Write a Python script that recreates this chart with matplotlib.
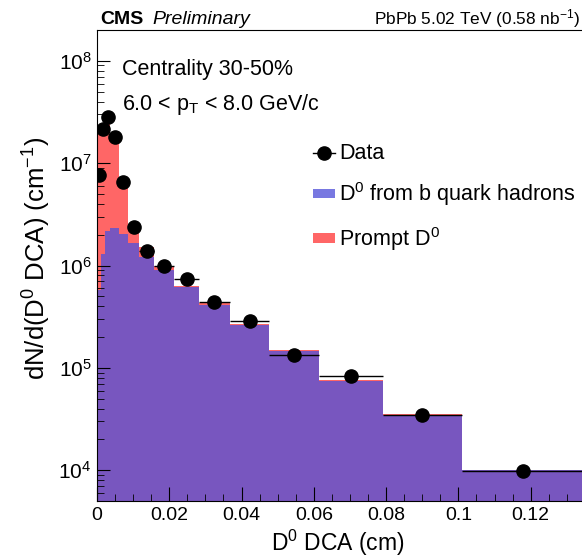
import matplotlib
matplotlib.use('Agg')
import matplotlib.pyplot as plt
import numpy as np
from matplotlib.ticker import MultipleLocator, FuncFormatter
from matplotlib.patches import Patch
from matplotlib.lines import Line2D

plt.rcParams['font.family'] = ['Liberation Sans', 'DejaVu Sans']
plt.rcParams['mathtext.fontset'] = 'custom'
plt.rcParams['mathtext.rm'] = 'Liberation Sans'
plt.rcParams['mathtext.it'] = 'Liberation Sans:italic'
plt.rcParams['mathtext.bf'] = 'Liberation Sans:bold'

# DCA bin edges (cm)
edges = np.array([0, 0.0011, 0.0023, 0.0037, 0.006, 0.0085, 0.0117, 0.0159,
                  0.0214, 0.0282, 0.0368, 0.0476, 0.0614, 0.0791, 0.101, 0.135])

# data points
data = [7.7e6, 2.15e7, 2.85e7, 1.80e7, 6.5e6, 2.40e6, 1.40e6, 9.9e5,
        7.4e5, 4.35e5, 2.90e5, 1.34e5, 8.4e4, 3.43e4, 9.8e3]

# D0 from b hadrons template
nonprompt = [5.8e5, 1.29e6, 2.15e6, 2.32e6, 2.03e6, 1.66e6, 1.22e6, 9.1e5,
             6.2e5, 4.10e5, 2.64e5, 1.47e5, 7.36e4, 3.48e4, 9.96e3]

# prompt D0 template (stacked on top of nonprompt)
prompt = [2.14e7, 2.33e7, 2.25e7, 1.70e7, 4.2e6, 6.7e5, 3.1e5, 7.0e4,
          1.4e4, 2.0e4, 6.0e3, 2.0e3, 1.7e3, 4.0e2, 1.4e2]

red = '#ff6666'
blue = (0.32, 0.32, 0.85)

fig = plt.figure(figsize=(5.82, 5.59), dpi=100)
ax = fig.add_axes([97/582, 58/559, 485/582, 471/559])

total = np.array(nonprompt) + np.array(prompt)
ax.stairs(total, edges, fill=True, color=red, baseline=1)
ax.stairs(nonprompt, edges, fill=True, color=blue, alpha=0.78, baseline=1)

centers = 0.5 * (edges[1:] + edges[:-1])
halfw = 0.5 * np.diff(edges)
ax.errorbar(centers, data, xerr=halfw, fmt='o', color='black', ms=9.5,
            elinewidth=1, capsize=0, zorder=5)

ax.set_yscale('log')
ax.set_ylim(5e3, 2e8)
ax.set_xlim(0, 0.1342)

ax.xaxis.set_major_locator(MultipleLocator(0.02))
ax.xaxis.set_minor_locator(MultipleLocator(0.005))
ax.xaxis.set_major_formatter(FuncFormatter(lambda v, p: '%g' % round(v, 3)))
ax.tick_params(which='both', direction='in')
ax.tick_params(axis='x', which='major', length=10, pad=4, labelsize=14)
ax.tick_params(axis='x', which='minor', length=5)
ax.tick_params(axis='y', which='major', length=9.5, pad=4, labelsize=15)
ax.tick_params(axis='y', which='minor', length=4.7)
ax.spines['right'].set_visible(False)

# header
fig.text(100/582, 1 - 24/559, 'CMS', weight='bold', fontsize=14, va='baseline')
fig.text(152/582, 1 - 24/559, 'Preliminary', style='italic', fontsize=14, va='baseline')
fig.text(580/582, 1 - 24/559, 'PbPb 5.02 TeV (0.58 nb$^{-1}$)', ha='right',
         fontsize=12.4, va='baseline')

fig.text(122/582, 1 - 75/559, 'Centrality 30-50%', fontsize=15.5, va='baseline')
fig.text(122/582, 1 - 110/559, '6.0 < p$_{\\rm T}$ < 8.0 GeV/c', fontsize=15.5, va='baseline')

# legend
handles = [Line2D([], [], color='black', marker='o', ms=9.5, lw=1),
           Patch(facecolor=blue, alpha=0.78, edgecolor='none'),
           Patch(facecolor=red, edgecolor='none')]
labels = ['Data', 'D$^0$ from b quark hadrons', 'Prompt D$^0$']
fig.legend(handles, labels, loc='center left', bbox_to_anchor=(313/582, 1 - 198/559),
           frameon=False, fontsize=15.5, handlelength=1.0, handleheight=0.3,
           handletextpad=0.2, labelspacing=0.75, borderpad=0, borderaxespad=0)

# axis titles
fig.text(338/582, 1 - 543/559, 'D$^0$ DCA (cm)', ha='center', va='center', fontsize=16.5)
fig.text(37/582, 1 - 258/559, 'dN/d(D$^0$ DCA) (cm$^{-1}$)', rotation=90,
         ha='center', va='center', fontsize=18.5)

fig.savefig('out.png', dpi=100)
